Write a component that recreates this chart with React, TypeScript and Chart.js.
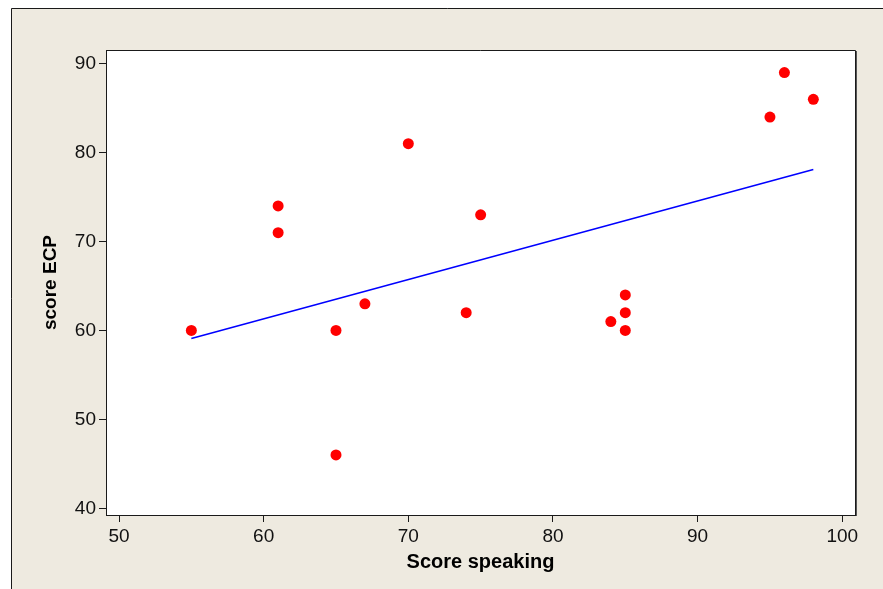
import React, { useEffect, useRef } from "react";
import { Chart, registerables } from "chart.js";

Chart.register(...registerables);

// Data
const speakingScores = [55, 61, 61, 65, 65, 67, 70, 74, 75, 84, 85, 85, 85, 95, 96, 98];
const ecpScores = [60, 74, 71, 60, 46, 63, 81, 62, 73, 61, 64, 62, 60, 84, 89, 86];
const fitX = [55, 98];
const fitY = [59.1, 78.1];
const xTicks = [50, 60, 70, 80, 90, 100];
const yTicks = [40, 50, 60, 70, 80, 90];
const xTitle = "Score speaking";
const yTitle = "score ECP";

const BG = "#EEEAE0";

const framePlugin = {
  id: "frame",
  beforeDraw(chart: any) {
    const { ctx, width, height, chartArea } = chart;
    ctx.save();
    ctx.fillStyle = "#FFFFFF";
    ctx.fillRect(0, 0, width, height);
    ctx.fillStyle = BG;
    ctx.fillRect(11, 8, width - 11, height - 8);
    ctx.strokeStyle = "#1a1a1a";
    ctx.lineWidth = 1;
    ctx.beginPath();
    ctx.moveTo(11.5, height);
    ctx.lineTo(11.5, 8.5);
    ctx.lineTo(width, 8.5);
    ctx.stroke();
    ctx.fillStyle = "#FFFFFF";
    ctx.fillRect(chartArea.left, chartArea.top, chartArea.right - chartArea.left, chartArea.bottom - chartArea.top);
    ctx.restore();
  },
  afterDraw(chart: any) {
    const { ctx, chartArea } = chart;
    ctx.save();
    ctx.strokeStyle = "#1a1a1a";
    ctx.lineWidth = 1;
    ctx.beginPath();
    ctx.moveTo(chartArea.left, chartArea.top + 0.5);
    ctx.lineTo(chartArea.right + 0.5, chartArea.top + 0.5);
    ctx.lineTo(chartArea.right + 0.5, chartArea.bottom);
    ctx.stroke();
    ctx.strokeStyle = "#555";
    ctx.beginPath();
    ctx.moveTo(chartArea.right + 1.5, chartArea.top + 1);
    ctx.lineTo(chartArea.right + 1.5, chartArea.bottom + 1);
    ctx.stroke();
    ctx.restore();
  },
};

export default function App() {
  const canvasRef = useRef<HTMLCanvasElement | null>(null);

  useEffect(() => {
    const canvas = canvasRef.current;
    if (!canvas) return;
    const points = speakingScores.map((x, i) => ({ x, y: ecpScores[i] }));
    const fit = fitX.map((x, i) => ({ x, y: fitY[i] }));
    const tickFont = { family: "'Liberation Sans', Arial, sans-serif", size: 19 };
    const xTitleFont = { family: "'Liberation Sans', Arial, sans-serif", size: 20, weight: "bold" as const };
    const yTitleFont = { family: "'Liberation Sans', Arial, sans-serif", size: 19, weight: "bold" as const };

    const chart = new Chart(canvas, {
      type: "scatter",
      data: {
        datasets: [
          {
            label: "points",
            data: points,
            backgroundColor: "#FF0000",
            borderWidth: 0,
            pointRadius: 5.5,
            pointHoverRadius: 5.5,
          },
          {
            label: "fit",
            data: fit,
            showLine: true,
            borderColor: "#0000FF",
            borderWidth: 1.5,
            pointRadius: 0,
            fill: false,
          } as any,
        ],
      },
      options: {
        responsive: false,
        animation: false,
        devicePixelRatio: 1,
        layout: { padding: { left: 0, top: 50, right: 28, bottom: 0 } },
        plugins: {
          legend: { display: false },
          tooltip: { enabled: false },
        },
        scales: {
          x: {
            type: "linear",
            min: 49.1,
            max: 100.88,
            afterFit: (s: any) => {
              s.height = 74;
            },
            afterBuildTicks: (s: any) => {
              s.ticks = xTicks.map((v) => ({ value: v }));
            },
            grid: { drawOnChartArea: false, drawTicks: true, tickLength: 7, color: "#1a1a1a" },
            border: { display: true, color: "#1a1a1a", width: 1 },
            ticks: { font: tickFont, color: "#111", padding: 3, maxRotation: 0, autoSkip: false },
            title: { display: true, text: xTitle, font: xTitleFont, color: "#000", padding: { top: 0, bottom: 15 } },
          },
          y: {
            type: "linear",
            min: 39.25,
            max: 91.54,
            afterFit: (s: any) => {
              s.width = 106;
            },
            afterBuildTicks: (s: any) => {
              s.ticks = yTicks.map((v) => ({ value: v }));
            },
            grid: { drawOnChartArea: false, drawTicks: true, tickLength: 7, color: "#1a1a1a" },
            border: { display: true, color: "#1a1a1a", width: 1 },
            ticks: { font: tickFont, color: "#111", padding: 3, autoSkip: false },
            title: { display: true, text: yTitle, font: yTitleFont, color: "#000", padding: { top: 39, bottom: 0 } },
          },
        },
      },
      plugins: [framePlugin],
    });
    return () => chart.destroy();
  }, []);

  return (
    <div style={{ position: "fixed", left: 0, top: 0, width: 883, height: 589 }}>
      <canvas ref={canvasRef} width={883} height={589} style={{ width: 883, height: 589, display: "block" }} />
    </div>
  );
}
